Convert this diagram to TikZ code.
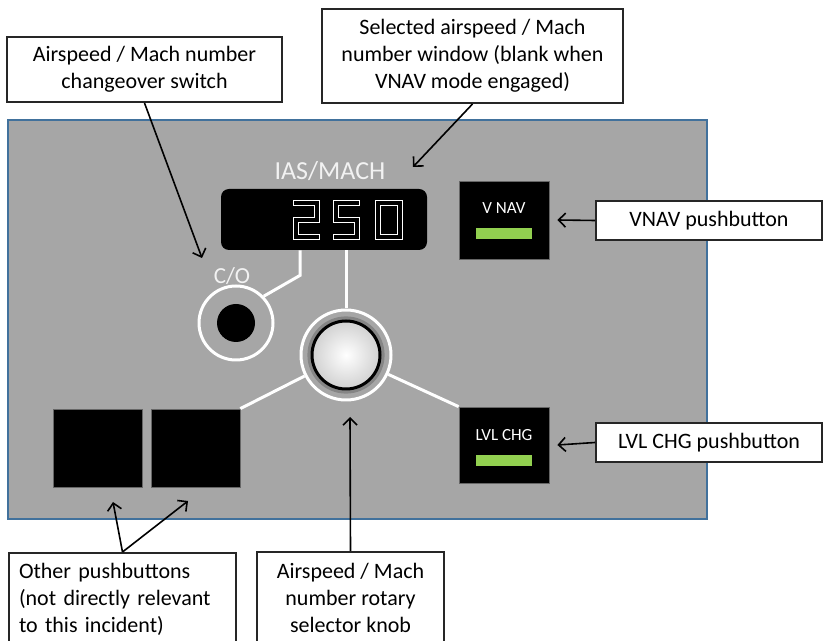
\documentclass[tikz,border=0pt]{standalone}
\usepackage{fontspec}
\setmainfont{Carlito}
\usepackage{xcolor}
\definecolor{PanelColor}{RGB}{166,166,166}
\definecolor{PanelEdge}{RGB}{65,113,156}
\definecolor{LampColor}{RGB}{146,208,80}
\definecolor{LabelColor}{RGB}{242,242,242}
\usetikzlibrary{positioning, arrows.meta, calc}

\begin{document}
\begin{tikzpicture}[
    x=0.5pt, y=-0.5pt,
    every node/.style={font=\fontsize{11}{13.5}\selectfont},
    callout/.style={rectangle, draw=black!85, line width=1pt, fill=white, align=center, inner sep=0pt},
    panel/.style={rectangle, draw=PanelEdge, line width=1pt, fill=PanelColor, inner sep=0pt},
    pushbtn/.style={rectangle, draw=black!60, line width=0.4pt, fill=black, minimum width=45pt, minimum height=39pt, inner sep=0pt},
    lamp/.style={rectangle, fill=LampColor, minimum width=28pt, minimum height=5.5pt, inner sep=0pt},
    btnlabel/.style={text=white, font=\fontsize{8.5}{10}\selectfont},
    panellabel/.style={text=LabelColor},
    wire/.style={white, line width=1.5pt},
    seghi/.style={white, line width=3pt, line cap=rect, line join=miter},
    seglo/.style={black, line width=1.6pt, line cap=rect, line join=miter},
    arrow/.style={-{Straight Barb[length=3.5pt, width=7pt]}, line width=0.8pt, black},
]

% Canvas
\path[use as bounding box, clip] (0,0) rectangle (825,641);

% Panel
\node[panel, minimum width=349.5pt, minimum height=199.5pt] (panel) at (357.5,319.5) {};

% Speed window
\node[fill=black, rounded corners=4pt, minimum width=103pt, minimum height=30.5pt, inner sep=0pt] (window) at (324,219.5) {};
\node[panellabel, font=\fontsize{13}{15}\selectfont] (iaslabel) at (330,171) {IAS/MACH};
\foreach \sty in {seghi, seglo} {
    \draw[\sty] (296,203) -- (317,203) -- (317,220) -- (296,220) -- (296,237) -- (317,237);
    \draw[\sty] (357,203) -- (336,203) -- (336,220) -- (357,220) -- (357,237) -- (336,237);
    \draw[\sty] (378,203) rectangle (400,237);
}

% Changeover switch
\node[panellabel, font=\fontsize{11.5}{14}\selectfont] (colabel) at (232,276) {C/O};
\node[circle, draw=white, line width=1.5pt, minimum size=37pt, inner sep=0pt] (co) at (236,323) {};
\node[circle, fill=black, minimum size=19pt, inner sep=0pt] (cobtn) at (co.center) {};

% Selector knob
\node[circle, draw=white, line width=1.5pt, minimum size=45pt, inner sep=0pt] (knob) at (346,355) {};
\draw[black!60, line width=3pt, opacity=0.5] (knob.center) circle (17.8pt);
\shade[inner color=white, outer color=black!18] (knob.center) circle (17pt);
\draw[black, line width=1.5pt] (knob.center) circle (17pt);

% Mode pushbuttons
\node[pushbtn] (vnav) at (504,220) {};
\node[btnlabel] (vnavlabel) at (504,208) {V NAV};
\node[lamp] (vnavlamp) at (504,234) {};
\node[pushbtn, minimum height=38pt] (lvl) at (504,445) {};
\node[btnlabel] (lvllabel) at (504,435) {LVL CHG};
\node[lamp] (lvllamp) at (504,461) {};

% Other pushbuttons
\node[pushbtn, minimum width=44.5pt] (btna) at (97.5,448) {};
\node[pushbtn, minimum width=44.5pt] (btnb) at (195.5,448) {};

% Panel wiring
\draw[wire] ([xshift=-12pt]window.south) -- ++(0,25) -- (co.44);
\draw[wire] (knob.north |- window.south) -- (knob.north);
\draw[wire] (btnb.north east) -- (knob);
\draw[wire] (lvl.north west) -- (knob);

% Callouts
\node[callout, minimum width=137.5pt, minimum height=32.5pt] (cobox) at (144.5,69.5) {Airspeed / Mach number\\changeover switch};
\node[callout, minimum width=150.5pt, minimum height=47pt] (winbox) at (472.5,56) {Selected airspeed / Mach\\number window (blank when\\VNAV mode engaged)};
\node[callout, minimum width=113pt, minimum height=19.5pt] (vnavbox) at (709,220.5) {VNAV pushbutton};
\node[callout, minimum width=113pt, minimum height=19.5pt] (lvlbox) at (709,442.5) {LVL CHG pushbutton};
\node[callout, anchor=north west, text width=103.5pt, align=left, inner xsep=5pt, minimum height=46pt] (otherbox) at (8,552) {Other pushbuttons\\(not directly relevant\\to this incident)};
\node[callout, minimum width=93.5pt, minimum height=46pt] (knobbox) at (350.5,598) {Airspeed / Mach\\number rotary\\selector knob};

% Arrows
\coordinate (cotip) at (202,258);
\coordinate (wintip) at (413,167);
\coordinate (knobtip) at (350,417);
\coordinate (btnatip) at (113,502);
\coordinate (btnbtip) at (188,501);
\draw[arrow] (cobox.south) -- (cotip);
\draw[arrow] (winbox.south) -- (wintip);
\draw[arrow] (vnavbox.west) -- ([xshift=4pt]vnav.east);
\draw[arrow] (lvlbox.west) -- ([xshift=4pt]lvl.east);
\draw[arrow] (knobbox.north) -- (knobtip);
\foreach \tip in {btnatip, btnbtip} {
    \draw[arrow] (otherbox.north) -- (\tip);
}

\end{tikzpicture}
\end{document}
